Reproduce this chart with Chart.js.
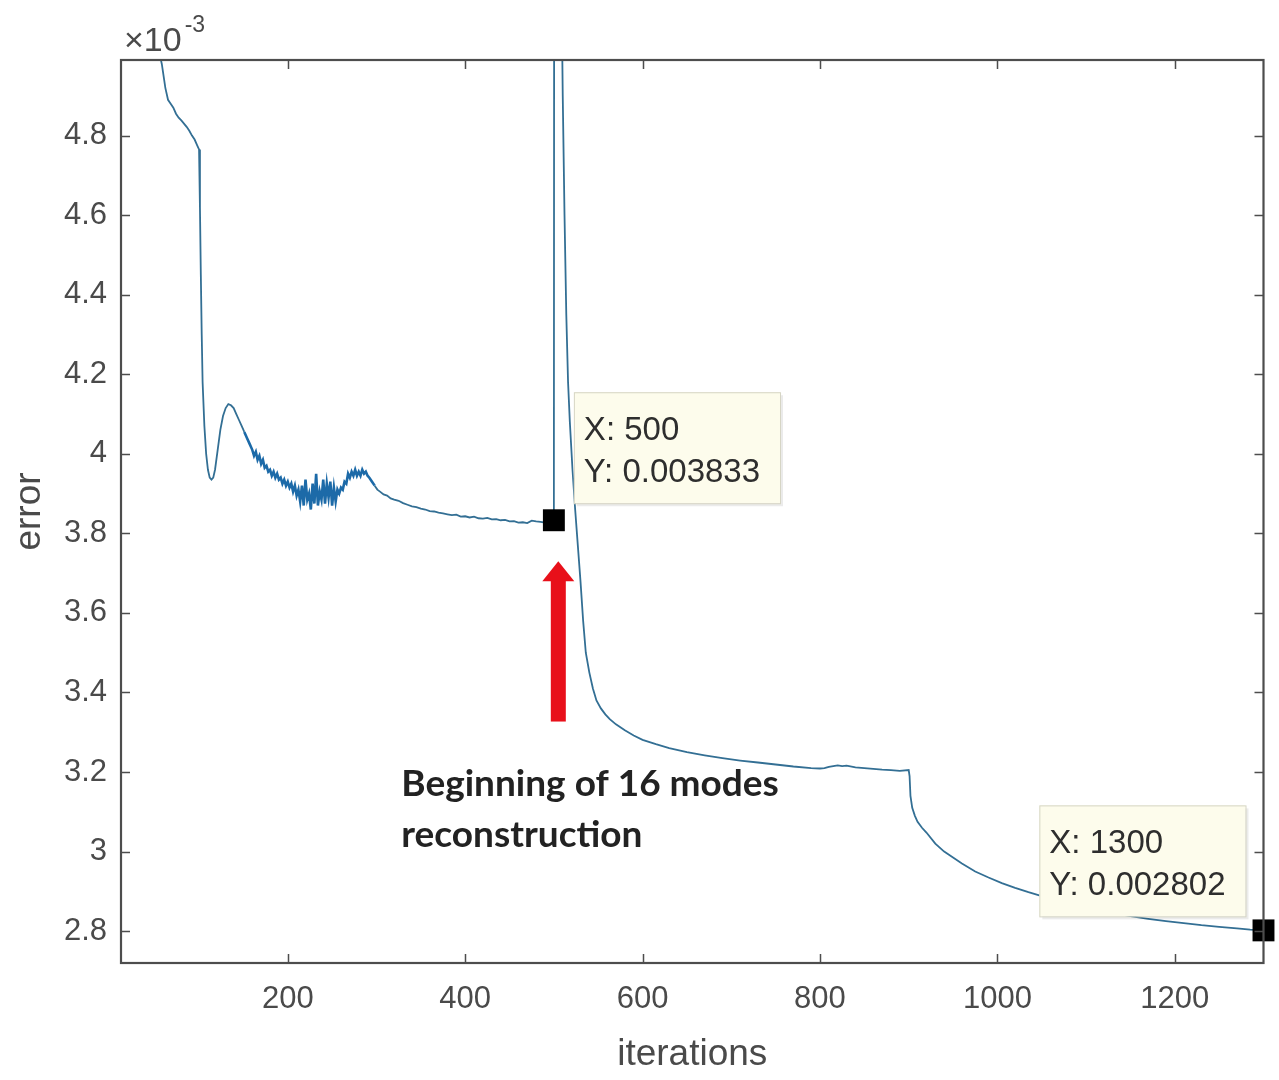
<!DOCTYPE html>
<html>
<head>
<meta charset="utf-8">
<script src="https://cdn.jsdelivr.net/npm/chart.js@4.4.1/dist/chart.umd.min.js"></script>
<style>
  html, body { margin: 0; padding: 0; background: #fff; }
  #wrap { width: 1279px; height: 1080px; }
</style>
</head>
<body>
<div id="wrap"><canvas id="c" width="1279" height="1080"></canvas></div>
<script>
// error curve, y in units of 1e-3
const iterations = [
  12, 25, 40, 52, 58, 62, 65, 68, 71, 74, 77, 80, 83, 86, 89, 92, 95, 98, 100,
  101, 102, 103, 104, 106, 108, 110, 112, 114, 116, 118, 121, 124, 127, 130, 133, 136, 139,
  142, 145, 148, 151, 154, 157, 160, 162, 164, 166, 168, 170, 172, 174, 176, 178, 180,
  182, 184, 186, 188, 190, 192, 194, 196, 198, 200, 202, 204, 206, 208, 210, 212, 214,
  216, 218, 220, 222, 224, 226, 228, 230, 232, 234, 236, 238, 240, 242, 244, 246, 248,
  250, 252, 254, 256, 258, 260, 262, 264, 266, 268, 270, 272, 274, 276, 278, 280, 282,
  284, 286, 288, 290, 292, 295, 298, 301, 304, 308, 312, 316, 320, 325, 330, 335, 340,
  345, 350, 355, 360, 365, 370, 375, 380, 385, 390, 395, 400, 405, 410, 415, 420, 425,
  430, 435, 440, 445, 450, 455, 460, 465, 470, 475, 480, 485, 490, 495, 500,
  501, 505, 508, 510, 512, 514, 516, 518, 521, 524, 527, 530, 533, 536, 540, 544, 548,
  553, 558, 563, 570, 580, 590, 600, 615, 630, 650, 670, 690, 710, 730, 750, 770, 790,
  800, 805, 810, 815, 820, 825, 830, 840, 850, 860, 870, 880, 890, 900,
  901, 902, 904, 907, 910, 915, 920, 930, 940, 950, 960, 975, 990, 1005, 1020, 1035,
  1050, 1070, 1090, 1110, 1130, 1150, 1170, 1190, 1210, 1230, 1250, 1270, 1285, 1300
];
const errorE3 = [
  5.9, 5.5, 5.2, 5.04, 4.98, 4.92, 4.89, 4.88, 4.87, 4.855, 4.845, 4.838, 4.83, 4.822, 4.812, 4.8, 4.79, 4.775, 4.765,
  4.62, 4.45, 4.3, 4.18, 4.07, 4.0, 3.96, 3.94, 3.935, 3.94, 3.96, 4.01, 4.06, 4.095, 4.115, 4.125, 4.122, 4.115,
  4.1, 4.085, 4.07, 4.055, 4.04, 4.025, 4.01, 3.995, 4.005, 3.985, 3.995, 3.975, 3.985, 3.965, 3.97, 3.955, 3.96,
  3.945, 3.955, 3.94, 3.95, 3.935, 3.94, 3.925, 3.935, 3.92, 3.93, 3.915, 3.925, 3.905, 3.92, 3.895, 3.91, 3.88,
  3.92, 3.87, 3.935, 3.885, 3.9, 3.86, 3.925, 3.875, 3.95, 3.87, 3.905, 3.885, 3.935, 3.875, 3.925, 3.89, 3.93,
  3.87, 3.915, 3.88, 3.91, 3.9, 3.915, 3.91, 3.93, 3.925, 3.95, 3.94, 3.955, 3.945, 3.96, 3.945, 3.955, 3.945,
  3.96, 3.95, 3.955, 3.945, 3.94, 3.93, 3.92, 3.91, 3.905, 3.898, 3.895, 3.888, 3.885, 3.882, 3.876, 3.872, 3.868,
  3.866, 3.862, 3.86, 3.856, 3.855, 3.852, 3.85, 3.848, 3.846, 3.847, 3.842, 3.843, 3.84, 3.842, 3.838, 3.837, 3.839,
  3.835, 3.836, 3.833, 3.834, 3.83, 3.831, 3.827, 3.828, 3.826, 3.832, 3.83, 3.829, 3.827, 3.83, 3.833,
  8.5, 6.5, 5.3, 4.9, 4.6, 4.35, 4.18, 4.08, 3.96, 3.86, 3.77, 3.68, 3.58, 3.5, 3.45, 3.41, 3.38,
  3.36, 3.345, 3.333, 3.32, 3.305, 3.292, 3.281, 3.27, 3.26, 3.25, 3.242, 3.235, 3.229, 3.224, 3.219, 3.214, 3.21,
  3.209, 3.21, 3.213, 3.215, 3.217, 3.215, 3.216, 3.212, 3.21, 3.208, 3.206, 3.205, 3.203, 3.205,
  3.19, 3.14, 3.11, 3.09, 3.075, 3.06, 3.048, 3.02, 3.0, 2.985, 2.97, 2.95, 2.935, 2.921, 2.909, 2.898,
  2.888, 2.876, 2.865, 2.855, 2.846, 2.838, 2.831, 2.825, 2.82, 2.815, 2.811, 2.807, 2.804, 2.802
];
const xTicks = [200, 400, 600, 800, 1000, 1200];
const yTicks = [2.8, 3, 3.2, 3.4, 3.6, 3.8, 4, 4.2, 4.4, 4.6, 4.8];
const tipX = [500, 1300];
const tipY = [0.003833, 0.002802];
const arrowX = 505, arrowFrom = 3.327, arrowTo = 3.73;
const noteLines = ['Beginning of 16 modes', 'reconstruction'];
const noteX = 328, noteY = 3.14;

const SANS = "'Liberation Sans', Arial, sans-serif";
const INK = '#4a4a4a';

const matlabBox = {
  id: 'matlabBox',
  afterDraw(chart) {
    const { ctx, chartArea: a, scales: { x, y } } = chart;
    ctx.save();

    // inward ticks on all four sides
    ctx.strokeStyle = '#4d4d4d';
    ctx.lineWidth = 1.5;
    const tl = 9;
    ctx.beginPath();
    xTicks.forEach(v => {
      const px = Math.round(x.getPixelForValue(v)) + 0.5;
      ctx.moveTo(px, a.bottom); ctx.lineTo(px, a.bottom - tl);
      ctx.moveTo(px, a.top); ctx.lineTo(px, a.top + tl);
    });
    yTicks.forEach(v => {
      const py = Math.round(y.getPixelForValue(v)) + 0.5;
      ctx.moveTo(a.left, py); ctx.lineTo(a.left + tl, py);
      ctx.moveTo(a.right, py); ctx.lineTo(a.right - tl, py);
    });
    ctx.stroke();

    // box
    ctx.lineWidth = 2.2;
    ctx.strokeRect(a.left, a.top, a.right - a.left, a.bottom - a.top);

    // exponent label
    ctx.fillStyle = INK;
    ctx.textBaseline = 'alphabetic';
    ctx.textAlign = 'left';
    ctx.font = '34px ' + SANS;
    ctx.fillText('\u00d710', a.left + 3, 51);
    const w10 = ctx.measureText('\u00d710').width;
    ctx.font = '23px ' + SANS;
    ctx.fillText('-3', a.left + 6 + w10, 32);

    // datatips
    ctx.font = '33px ' + SANS;
    tipX.forEach((vx, i) => {
      const mx = x.getPixelForValue(vx);
      const my = y.getPixelForValue(tipY[i] * 1000);
      const l1 = 'X: ' + vx, l2 = 'Y: ' + tipY[i].toFixed(6);
      const bw = Math.max(ctx.measureText(l1).width, ctx.measureText(l2).width) + 30;
      const bh = 111;
      const bx = i === 0 ? mx + 20 : mx - 18 - bw;
      const by = my - (i === 0 ? 128 : 125);
      ctx.fillStyle = 'rgba(0,0,0,0.08)';
      ctx.fillRect(bx + 3, by + 3, bw, bh);
      ctx.fillStyle = '#fdfcec';
      ctx.fillRect(bx, by, bw, bh);
      ctx.strokeStyle = '#d6d5c4';
      ctx.lineWidth = 1;
      ctx.strokeRect(bx + 0.5, by + 0.5, bw, bh);
      ctx.fillStyle = '#2e2e2e';
      ctx.fillText(l1, bx + 10, by + 48);
      ctx.fillText(l2, bx + 10, by + 90);
    });

    // red arrow
    const ax = x.getPixelForValue(arrowX);
    const ay0 = y.getPixelForValue(arrowFrom);
    const ay1 = y.getPixelForValue(arrowTo);
    ctx.fillStyle = '#e8101a';
    ctx.fillRect(ax - 7.5, ay1 + 18, 15, ay0 - ay1 - 18);
    ctx.beginPath();
    ctx.moveTo(ax, ay1);
    ctx.lineTo(ax + 16, ay1 + 20);
    ctx.lineTo(ax - 16, ay1 + 20);
    ctx.closePath();
    ctx.fill();

    // annotation text
    ctx.fillStyle = '#222';
    ctx.font = 'bold 37px Lato, "Open Sans", sans-serif';
    const nx = x.getPixelForValue(noteX);
    const ny = y.getPixelForValue(noteY);
    noteLines.forEach((t, i) => ctx.fillText(t, nx, ny + i * 51));

    ctx.restore();
  }
};

const noisy = c => c.p0.parsed.x >= 150 && c.p1.parsed.x <= 300;

new Chart(document.getElementById('c'), {
  type: 'line',
  data: {
    datasets: [
      {
        type: 'scatter',
        data: tipX.map((v, i) => ({ x: v, y: tipY[i] * 1000 })),
        pointStyle: 'rect',
        pointRadius: 15.5,
        pointBackgroundColor: '#000',
        pointBorderColor: '#000',
        pointBorderWidth: 0,
        clip: false,
        order: 0
      },
      {
        data: iterations.map((v, i) => ({ x: v, y: errorE3[i] })),
        borderColor: '#336f94',
        borderWidth: 1.8,
        pointRadius: 0,
        tension: 0,
        segment: {
          borderColor: c => noisy(c) ? '#1c6aa8' : undefined,
          borderWidth: c => noisy(c) ? 2.6 : undefined
        },
        order: 1
      }
    ]
  },
  options: {
    responsive: false,
    animation: false,
    devicePixelRatio: 1,
    layout: { padding: { top: 60, right: 14, left: 0, bottom: 0 } },
    plugins: { legend: { display: false }, tooltip: { enabled: false } },
    scales: {
      x: {
        type: 'linear',
        min: 12,
        max: 1300,
        grid: { display: false, drawTicks: false },
        border: { display: false },
        afterFit: s => { s.height = 117; },
        afterBuildTicks: s => { s.ticks = xTicks.map(v => ({ value: v })); },
        ticks: {
          padding: 18,
          color: INK,
          font: { size: 31, family: SANS },
          maxRotation: 0,
          autoSkip: false,
          callback: v => String(v)
        },
        title: {
          display: true,
          text: 'iterations',
          color: INK,
          font: { size: 37, family: SANS },
          padding: { top: 3, bottom: 3 }
        }
      },
      y: {
        type: 'linear',
        min: 2.72,
        max: 4.99,
        grid: { display: false, drawTicks: false },
        border: { display: false },
        afterFit: s => { s.width = 121; },
        afterBuildTicks: s => { s.ticks = yTicks.map(v => ({ value: v })); },
        ticks: {
          padding: 14,
          color: INK,
          font: { size: 31, family: SANS },
          autoSkip: false,
          callback: v => String(+v.toFixed(1))
        },
        title: {
          display: true,
          text: 'error',
          color: INK,
          font: { size: 37, family: SANS },
          padding: { top: 8, bottom: 0 }
        }
      }
    }
  },
  plugins: [matlabBox]
});
</script>
</body>
</html>
